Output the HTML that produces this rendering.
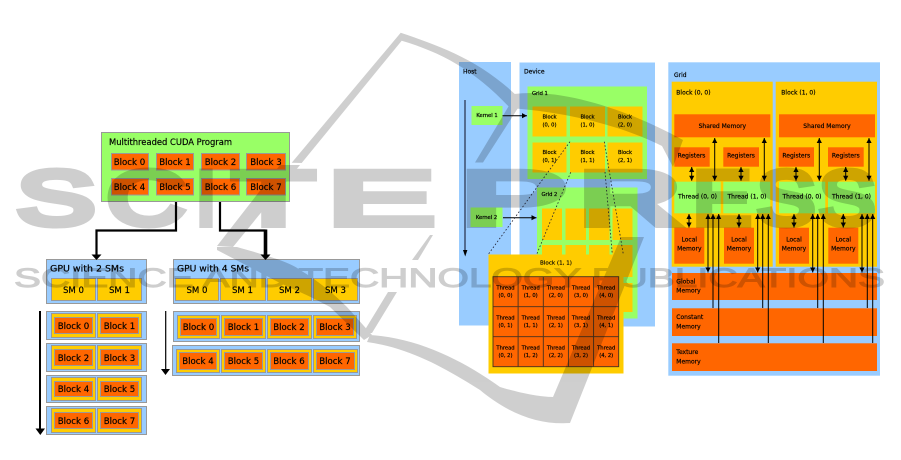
<!DOCTYPE html>
<html><head><meta charset="utf-8"><style>
html,body{margin:0;padding:0;background:#fff}
svg{display:block}
text{font-family:"DejaVu Sans","Liberation Sans",sans-serif;fill:#000}
.m{text-anchor:middle}
.l text{font-size:8.6px;stroke:#000;stroke-width:.18}
.b{fill:#9cf}.g{fill:#9f6}.y{fill:#fc0}.o{fill:#f60}
.l rect{stroke:#999;stroke-width:1}
.a{stroke:#000;stroke-width:1;fill:none;marker-end:url(#ah)}
.d{stroke:#000;stroke-width:1;fill:none;marker-start:url(#as);marker-end:url(#ah)}
.s{stroke:#000;stroke-width:1;fill:none;marker-start:url(#as)}
.dot{stroke:#223;stroke-width:.8;stroke-dasharray:1.6 2;fill:none}
.f6 text{font-size:6px;stroke:#000;stroke-width:.18}
.f5 text{font-size:5.2px;stroke:#000;stroke-width:.2}
.w text{font-family:"Liberation Sans",sans-serif;font-size:76px;fill:#000;stroke:#000;stroke-width:7;stroke-linejoin:miter}
</style></head><body>
<svg width="901" height="460" viewBox="0 0 901 460" xmlns="http://www.w3.org/2000/svg">
<defs>
<marker id="ah" markerUnits="userSpaceOnUse" markerWidth="6" markerHeight="6" refX="5" refY="3" orient="auto"><path d="M0,.4L5,3L0,5.6z" fill="#000"/></marker>
<marker id="as" markerUnits="userSpaceOnUse" markerWidth="6" markerHeight="6" refX="0" refY="3" orient="auto"><path d="M5,.4L0,3L5,5.6z" fill="#000"/></marker>
<filter id="bl" x="-2%" y="-2%" width="104%" height="104%"><feGaussianBlur stdDeviation="0.35"/></filter>
<filter id="bs" x="-2%" y="-2%" width="104%" height="104%"><feGaussianBlur stdDeviation="0.25"/></filter>
</defs>

<!-- LEFT DIAGRAM -->
<g class="l" filter="url(#bs)">
<rect x="101.5" y="132.5" width="188" height="69" class="g"/>
<text x="109" y="145" textLength="123" lengthAdjust="spacingAndGlyphs">Multithreaded CUDA Program</text>
<rect x="111.5" y="153.5" width="37" height="16.5" class="o"/><text x="129.5" y="165" class="m">Block 0</text>
<rect x="156.5" y="153.5" width="37" height="16.5" class="o"/><text x="175" y="165" class="m">Block 1</text>
<rect x="201.5" y="153.5" width="38" height="16.5" class="o"/><text x="220.5" y="165" class="m">Block 2</text>
<rect x="246.5" y="153.5" width="39" height="16.5" class="o"/><text x="266" y="165" class="m">Block 3</text>
<rect x="111.5" y="178.5" width="37" height="16.5" class="o"/><text x="129.5" y="190" class="m">Block 4</text>
<rect x="156.5" y="178.5" width="37" height="16.5" class="o"/><text x="175" y="190" class="m">Block 5</text>
<rect x="201.5" y="178.5" width="38" height="16.5" class="o"/><text x="220.5" y="190" class="m">Block 6</text>
<rect x="246.5" y="178.5" width="39" height="16.5" class="o"/><text x="266" y="190" class="m">Block 7</text>

<rect x="46.5" y="259.5" width="100" height="44" class="b"/>
<text x="50" y="271.5" textLength="74" lengthAdjust="spacingAndGlyphs">GPU with 2 SMs</text>
<rect x="51.5" y="278.5" width="44" height="22" class="y"/><text x="73.5" y="293" class="m">SM 0</text>
<rect x="97.5" y="278.5" width="44" height="22" class="y"/><text x="119.5" y="293" class="m">SM 1</text>

<rect x="46.5" y="311.5" width="100" height="28" class="b"/>
<rect x="51.5" y="313.5" width="44" height="24" class="y"/><rect x="54.5" y="317.5" width="38" height="16" class="o"/><text x="73.5" y="329" class="m">Block 0</text>
<rect x="97.5" y="313.5" width="44" height="24" class="y"/><rect x="100.5" y="317.5" width="38" height="16" class="o"/><text x="119.5" y="329" class="m">Block 1</text>
<rect x="46.5" y="343.5" width="100" height="28" class="b"/>
<rect x="51.5" y="345.5" width="44" height="24" class="y"/><rect x="54.5" y="349.5" width="38" height="16" class="o"/><text x="73.5" y="361" class="m">Block 2</text>
<rect x="97.5" y="345.5" width="44" height="24" class="y"/><rect x="100.5" y="349.5" width="38" height="16" class="o"/><text x="119.5" y="361" class="m">Block 3</text>
<rect x="46.5" y="375.5" width="100" height="27" class="b"/>
<rect x="51.5" y="377.5" width="44" height="23" class="y"/><rect x="54.5" y="381.5" width="38" height="15" class="o"/><text x="73.5" y="392" class="m">Block 4</text>
<rect x="97.5" y="377.5" width="44" height="23" class="y"/><rect x="100.5" y="381.5" width="38" height="15" class="o"/><text x="119.5" y="392" class="m">Block 5</text>
<rect x="46.5" y="406.5" width="100" height="28" class="b"/>
<rect x="51.5" y="408.5" width="44" height="24" class="y"/><rect x="54.5" y="412.5" width="38" height="16" class="o"/><text x="73.5" y="424" class="m">Block 6</text>
<rect x="97.5" y="408.5" width="44" height="24" class="y"/><rect x="100.5" y="412.5" width="38" height="16" class="o"/><text x="119.5" y="424" class="m">Block 7</text>

<rect x="173.5" y="259.5" width="186" height="44" class="b"/>
<text x="177" y="271.5" textLength="72" lengthAdjust="spacingAndGlyphs">GPU with 4 SMs</text>
<rect x="175.5" y="278.5" width="43" height="22" class="y"/><text x="197" y="293" class="m">SM 0</text>
<rect x="220.5" y="278.5" width="45" height="22" class="y"/><text x="242.5" y="293" class="m">SM 1</text>
<rect x="267.5" y="278.5" width="44" height="22" class="y"/><text x="289.5" y="293" class="m">SM 2</text>
<rect x="313.5" y="278.5" width="44" height="22" class="y"/><text x="335.5" y="293" class="m">SM 3</text>

<rect x="173.5" y="311.5" width="186" height="30" class="b"/>
<rect x="177.5" y="315.5" width="42" height="23" class="y"/><rect x="180.5" y="318.5" width="36" height="17" class="o"/><text x="198.5" y="330" class="m">Block 0</text>
<rect x="221.5" y="315.5" width="44" height="23" class="y"/><rect x="224.5" y="318.5" width="38" height="17" class="o"/><text x="243.5" y="330" class="m">Block 1</text>
<rect x="267.5" y="315.5" width="44" height="23" class="y"/><rect x="270.5" y="318.5" width="38" height="17" class="o"/><text x="289" y="330" class="m">Block 2</text>
<rect x="313.5" y="315.5" width="43" height="23" class="y"/><rect x="316.5" y="318.5" width="37" height="17" class="o"/><text x="335" y="330" class="m">Block 3</text>
<rect x="172.5" y="345.5" width="187" height="30" class="b"/>
<rect x="176.5" y="349.5" width="43" height="23" class="y"/><rect x="179.5" y="352.5" width="37" height="17" class="o"/><text x="198" y="364" class="m">Block 4</text>
<rect x="221.5" y="349.5" width="44" height="23" class="y"/><rect x="224.5" y="352.5" width="38" height="17" class="o"/><text x="243.5" y="364" class="m">Block 5</text>
<rect x="267.5" y="349.5" width="44" height="23" class="y"/><rect x="270.5" y="352.5" width="38" height="17" class="o"/><text x="289" y="364" class="m">Block 6</text>
<rect x="313.5" y="349.5" width="44" height="23" class="y"/><rect x="316.5" y="352.5" width="38" height="17" class="o"/><text x="335" y="364" class="m">Block 7</text>
</g>

<!-- left connectors -->
<path d="M176,202V230.5H96.5V256" fill="none" stroke="#000" stroke-width="2.2"/>
<path d="M220,202V230.5H265.5" fill="none" stroke="#000" stroke-width="2.2"/>
<path d="M265.5,229.5V256" fill="none" stroke="#000" stroke-width="3.6"/>
<path d="M91.5,254.5h10l-5,5.5z M260.5,254.5h10l-5,5.5z" fill="#000"/>
<path d="M40,311V430" stroke="#000" stroke-width="2" fill="none"/>
<path d="M35.5,428.5h9.5l-4.7,6.5z" fill="#000"/>
<path d="M165.7,311V370" stroke="#000" stroke-width="1.2" fill="none"/>
<path d="M161,369h9l-4.5,6z" fill="#000"/>

<!-- MIDDLE DIAGRAM -->
<g filter="url(#bl)">
<rect x="459" y="62" width="52" height="263.5" class="b"/>
<rect x="519.5" y="62.5" width="135.5" height="264" class="b"/>
<text x="463" y="73.5" style="font-size:6px;stroke:#000;stroke-width:.2">Host</text>
<text x="524" y="73.5" style="font-size:6px;stroke:#000;stroke-width:.2">Device</text>

<rect x="471.5" y="106" width="31" height="19" class="g"/>
<rect x="470.5" y="207.5" width="32" height="19.5" class="g"/>
<g class="f5">
<text x="487" y="117" class="m">Kernel 1</text>
<text x="486.5" y="219" class="m">Kernel 2</text>
</g>

<rect x="537" y="187.5" width="100.5" height="131" class="g"/>
<rect x="542" y="208.5" width="20" height="31.5" class="y"/><rect x="565.5" y="208.5" width="20.5" height="31.5" class="y"/><rect x="589" y="208.5" width="20.5" height="31.5" class="y"/><rect x="612.5" y="208.5" width="20" height="31.5" class="y"/>
<rect x="542" y="245" width="20" height="32" class="y"/><rect x="565.5" y="245" width="20.5" height="32" class="y"/><rect x="589" y="245" width="20.5" height="32" class="y"/><rect x="612.5" y="245" width="20" height="32" class="y"/>
<rect x="612.5" y="283" width="20" height="29" class="y"/>

<rect x="527.5" y="86.5" width="119.5" height="92.5" class="g"/>
<rect x="532.5" y="106.5" width="34" height="30" class="y"/><rect x="570" y="106.5" width="35" height="30" class="y"/><rect x="607.5" y="106.5" width="35" height="30" class="y"/>
<rect x="532.5" y="142.5" width="34" height="30" class="y"/><rect x="570" y="142.5" width="35" height="30" class="y"/><rect x="607.5" y="142.5" width="35" height="30" class="y"/>
<g class="f5">
<text x="532" y="95">Grid 1</text>
<text x="541.5" y="196">Grid 2</text>
<text x="549.5" y="118.5" class="m">Block</text><text x="549.5" y="126.5" class="m">(0, 0)</text>
<text x="587.5" y="118.5" class="m">Block</text><text x="587.5" y="126.5" class="m">(1, 0)</text>
<text x="625" y="118.5" class="m">Block</text><text x="625" y="126.5" class="m">(2, 0)</text>
<text x="549.5" y="154" class="m">Block</text><text x="549.5" y="162" class="m">(0, 1)</text>
<text x="587.5" y="154" class="m">Block</text><text x="587.5" y="162" class="m">(1, 1)</text>
<text x="625" y="154" class="m">Block</text><text x="625" y="162" class="m">(2, 1)</text>
</g>
<path d="M465,100V252" stroke="#112" stroke-width="1" fill="none"/>
<path d="M463,250h4.4l-2.2,6.5z" fill="#000"/>
<path d="M502.5,115.7H527" class="a"/>
<path d="M503,217.7H536.5" class="a"/>
<path d="M570,141.7L488.3,254.3M570.7,172.3L536.7,254.3M604.3,141.7L623.3,254.3M605,172L612.3,254.3" class="dot"/>

<rect x="488.5" y="254.5" width="135" height="119" class="y"/>
<text x="556" y="264.5" class="m" style="font-size:5.6px;stroke:#000;stroke-width:.15">Block (1, 1)</text>
<rect x="493" y="276.7" width="125.7" height="90" class="o" stroke="#432" stroke-width=".9"/>
<path d="M518.1,276.7V366.7M543.3,276.7V366.7M568.4,276.7V366.7M593.6,276.7V366.7M493,306.7H618.7M493,336.7H618.7" stroke="#432" stroke-width=".9" fill="none"/>
<g class="f5">
<text x="505.5" y="289.5" class="m">Thread</text><text x="505.5" y="297" class="m">(0, 0)</text>
<text x="530.7" y="289.5" class="m">Thread</text><text x="530.7" y="297" class="m">(1, 0)</text>
<text x="555.9" y="289.5" class="m">Thread</text><text x="555.9" y="297" class="m">(2, 0)</text>
<text x="581" y="289.5" class="m">Thread</text><text x="581" y="297" class="m">(3, 0)</text>
<text x="606.2" y="289.5" class="m">Thread</text><text x="606.2" y="297" class="m">(4, 0)</text>
<text x="505.5" y="319.5" class="m">Thread</text><text x="505.5" y="327" class="m">(0, 1)</text>
<text x="530.7" y="319.5" class="m">Thread</text><text x="530.7" y="327" class="m">(1, 1)</text>
<text x="555.9" y="319.5" class="m">Thread</text><text x="555.9" y="327" class="m">(2, 1)</text>
<text x="581" y="319.5" class="m">Thread</text><text x="581" y="327" class="m">(3, 1)</text>
<text x="606.2" y="319.5" class="m">Thread</text><text x="606.2" y="327" class="m">(4, 1)</text>
<text x="505.5" y="349.5" class="m">Thread</text><text x="505.5" y="357" class="m">(0, 2)</text>
<text x="530.7" y="349.5" class="m">Thread</text><text x="530.7" y="357" class="m">(1, 2)</text>
<text x="555.9" y="349.5" class="m">Thread</text><text x="555.9" y="357" class="m">(2, 2)</text>
<text x="581" y="349.5" class="m">Thread</text><text x="581" y="357" class="m">(3, 2)</text>
<text x="606.2" y="349.5" class="m">Thread</text><text x="606.2" y="357" class="m">(4, 2)</text>
</g>
</g>

<!-- RIGHT DIAGRAM -->
<g filter="url(#bl)">
<rect x="668.3" y="62.3" width="211.7" height="313.4" class="b"/>
<rect x="671.7" y="81.7" width="101" height="185" class="y"/>
<rect x="775.7" y="81.7" width="101.3" height="185" class="y"/>
<rect x="674.3" y="114.3" width="96" height="23" class="o"/>
<rect x="779" y="114.3" width="96" height="23" class="o"/>
<rect x="674.3" y="147.3" width="35.4" height="19.4" class="o"/>
<rect x="723.3" y="147.3" width="35.7" height="19.4" class="o"/>
<rect x="778.7" y="147.3" width="35.3" height="19.4" class="o"/>
<rect x="828" y="147.3" width="35.7" height="19.4" class="o"/>
<rect x="674.3" y="181.7" width="46.4" height="31.6" class="g"/>
<rect x="723.3" y="181.7" width="47" height="31.6" class="g"/>
<rect x="779" y="181.7" width="46.3" height="31.6" class="g"/>
<rect x="828" y="181.7" width="47" height="31.6" class="g"/>
<rect x="674.3" y="227.7" width="30" height="36" class="o"/>
<rect x="724" y="227.7" width="30" height="36" class="o"/>
<rect x="779" y="227.7" width="30" height="36" class="o"/>
<rect x="828.3" y="227.7" width="30" height="36" class="o"/>
<rect x="672" y="273" width="205" height="27" class="o"/>
<rect x="672" y="308.3" width="205" height="27.7" class="o"/>
<rect x="672" y="343.3" width="205" height="27.7" class="o"/>
<g class="f6">
<text x="674" y="77">Grid</text>
<text x="676.3" y="94.5">Block (0, 0)</text>
<text x="781.3" y="94.5">Block (1, 0)</text>
<text x="722.3" y="128" class="m">Shared Memory</text>
<text x="827" y="128" class="m">Shared Memory</text>
<text x="691.5" y="157.5" class="m">Registers</text>
<text x="741" y="157.5" class="m">Registers</text>
<text x="796.3" y="157.5" class="m">Registers</text>
<text x="845.8" y="157.5" class="m">Registers</text>
<text x="697.5" y="198.5" class="m">Thread (0, 0)</text>
<text x="747" y="198.5" class="m">Thread (1, 0)</text>
<text x="802" y="198.5" class="m">Thread (0, 0)</text>
<text x="851.5" y="198.5" class="m">Thread (1, 0)</text>
<text x="689.3" y="241.5" class="m">Local</text><text x="689.3" y="250.5" class="m">Memory</text>
<text x="739" y="241.5" class="m">Local</text><text x="739" y="250.5" class="m">Memory</text>
<text x="794" y="241.5" class="m">Local</text><text x="794" y="250.5" class="m">Memory</text>
<text x="843.3" y="241.5" class="m">Local</text><text x="843.3" y="250.5" class="m">Memory</text>
<text x="676.3" y="283.5">Global</text><text x="676.3" y="292.5">Memory</text>
<text x="676.3" y="319">Constant</text><text x="676.3" y="328.5">Memory</text>
<text x="676.3" y="354">Texture</text><text x="676.3" y="363.5">Memory</text>
</g>
<path class="d" d="M691.7,167V180.7"/><path class="d" d="M741,167V180.7"/><path class="d" d="M796,167V180.7"/><path class="d" d="M845.7,167V180.7"/>
<path class="d" d="M714.7,138V180.7"/><path class="d" d="M764.3,138V180.7"/><path class="d" d="M819.3,138V180.7"/><path class="d" d="M869,138V180.7"/>
<path class="d" d="M689,214V227.5"/><path class="d" d="M739,214V227.5"/><path class="d" d="M794,214V227.5"/><path class="d" d="M843.3,214V227.5"/>
<path class="d" d="M708,214V272.5"/><path class="d" d="M757.7,214V272.5"/><path class="d" d="M812.7,214V272.5"/><path class="d" d="M862,214V272.5"/>
<path class="s" d="M713,214V308"/><path class="s" d="M762.7,214V308"/><path class="s" d="M817.7,214V308"/><path class="s" d="M867.3,214V308"/>
<path class="s" d="M718.7,214V343"/><path class="s" d="M768.3,214V343"/><path class="s" d="M823.3,214V343"/><path class="s" d="M872.7,214V343"/>
</g>

<!-- WATERMARK -->
<g opacity=".19" fill="#000">
<g class="w">
<text x="17" y="224.5" textLength="78" lengthAdjust="spacingAndGlyphs">S</text>
<text x="107" y="224.5" textLength="78" lengthAdjust="spacingAndGlyphs">C</text>
<text x="196" y="224.5" textLength="20" lengthAdjust="spacingAndGlyphs">I</text>
<text x="233" y="224.5" textLength="81" lengthAdjust="spacingAndGlyphs">T</text>
<text x="328" y="224.5" textLength="106" lengthAdjust="spacingAndGlyphs">E</text>
<text x="461" y="224.5" textLength="106" lengthAdjust="spacingAndGlyphs">P</text>
<text x="579" y="224.5" textLength="102" lengthAdjust="spacingAndGlyphs">R</text>
<text x="693" y="224.5" textLength="58" lengthAdjust="spacingAndGlyphs">E</text>
<text x="757" y="224.5" textLength="58" lengthAdjust="spacingAndGlyphs">S</text>
<text x="819" y="224.5" textLength="56" lengthAdjust="spacingAndGlyphs">S</text>
</g>
<text x="14" y="287" textLength="871" lengthAdjust="spacingAndGlyphs" style="font-family:'Liberation Sans',sans-serif;font-size:27px;fill:#000;stroke:#000;stroke-width:1">SCIENCE AND TECHNOLOGY PUBLICATIONS</text>
<!-- logo strokes -->
<path d="M291.7,162.7L400.7,32.7C440,46 480,60 518,97L510,108C475,70 440,52 401.7,40.7L301.7,163Z"/>
<path d="M510,104L475,162.5H483L518,108Z"/>
<path d="M514,94C560,88 625,108 683,140L673,167L662,146C620,125 565,112 510,108Z"/>
<path d="M217,246L280,165H300L233,247Z"/>
<path d="M217,247L237,247C265,255 290,262 300,270C320,282 335,295 347,307L372,335L364,340L330,307C310,296 295,290 280,283L217,250Z"/>
<path d="M370,335C420,338 465,362 500,387C520,393 540,397 553,397L621,237H644L570,423C540,425 510,415 480,390C445,368 410,348 367,342Z"/>
<path d="M388,292L363,333H372L397,292Z"/>
<path d="M430,235L412,260H418L433,235Z"/>
</g>
</svg>
</body></html>
